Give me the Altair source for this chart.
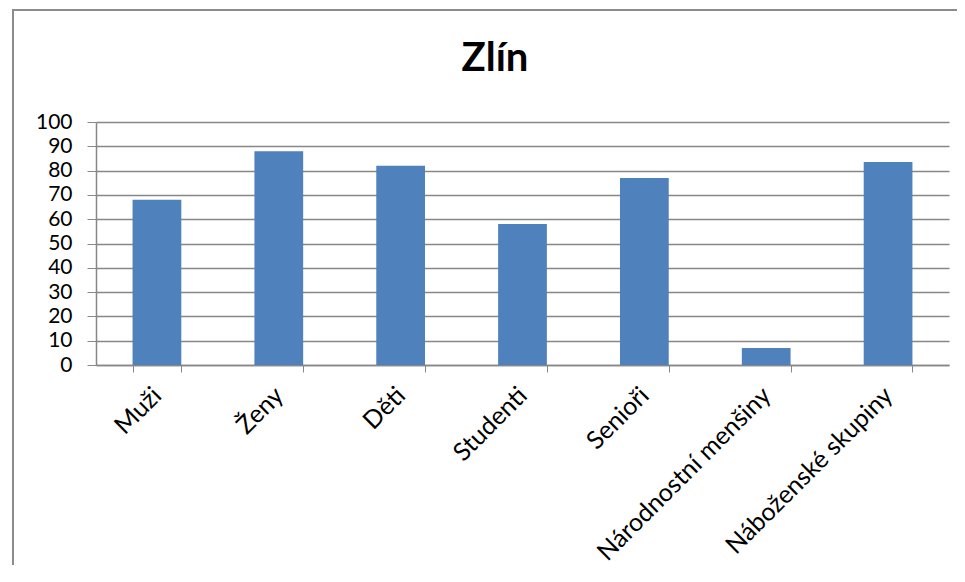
import altair as alt
import pandas as pd

categories = ["Muži", "Ženy", "Děti", "Studenti", "Senioři", "Národnostní menšiny", "Náboženské skupiny"]
values = [68, 88, 82, 58, 77, 7, 83.5]
y_ticks = [0, 10, 20, 30, 40, 50, 60, 70, 80, 90, 100]
chart_title = "Zlín"

df = pd.DataFrame({"kategorie": categories, "hodnota": values})

GRAY = "#878787"
FONT = "Lato"

frame = alt.Chart(pd.DataFrame({"a": [0]})).mark_rect(
    fillOpacity=0, stroke="#8c8c8c", strokeWidth=2
).encode(
    x=alt.value(-83), x2=alt.value(900), y=alt.value(-112), y2=alt.value(480)
)

title = alt.Chart(pd.DataFrame({"t": [chart_title]})).mark_text(
    font=FONT, fontSize=40, fontWeight="bold", color="black",
    align="center", baseline="alphabetic"
).encode(
    text="t:N", x=alt.value(399), y=alt.value(-51)
)

bars = alt.Chart(df).mark_bar(color="#4F81BD").encode(
    x=alt.X(
        "kategorie:N",
        sort=categories,
        title=None,
        scale=alt.Scale(paddingInner=0.6, paddingOuter=0.3),
        axis=alt.Axis(
            labelAngle=-45,
            labelAlign="right",
            labelBaseline="middle",
            labelFont=FONT,
            labelFontSize=25,
            labelColor="black",
            labelPadding=19,
            labelLimit=0,
            tickBand="extent",
            tickSize=7,
            tickColor=GRAY,
            domainColor=GRAY,
            domainWidth=1.5,
            grid=False,
        ),
    ),
    y=alt.Y(
        "hodnota:Q",
        title=None,
        scale=alt.Scale(domain=[0, 100], nice=False),
        axis=alt.Axis(
            values=y_ticks,
            labelFont=FONT,
            labelFontSize=21,
            labelColor="black",
            labelPadding=15,
            labelOverlap=False,
            tickSize=9,
            tickColor=GRAY,
            domainColor=GRAY,
            domainWidth=1.5,
            gridColor=GRAY,
            gridWidth=1.4,
        ),
    ),
)

chart = alt.layer(frame, title, bars).properties(
    width=853,
    height=243,
    autosize=alt.AutoSizeParams(type="none"),
    padding={"left": 88, "top": 114, "right": 8, "bottom": 200},
).configure_view(stroke=None)

chart.save("out.html", embed_options={"renderer": "svg", "actions": False})
